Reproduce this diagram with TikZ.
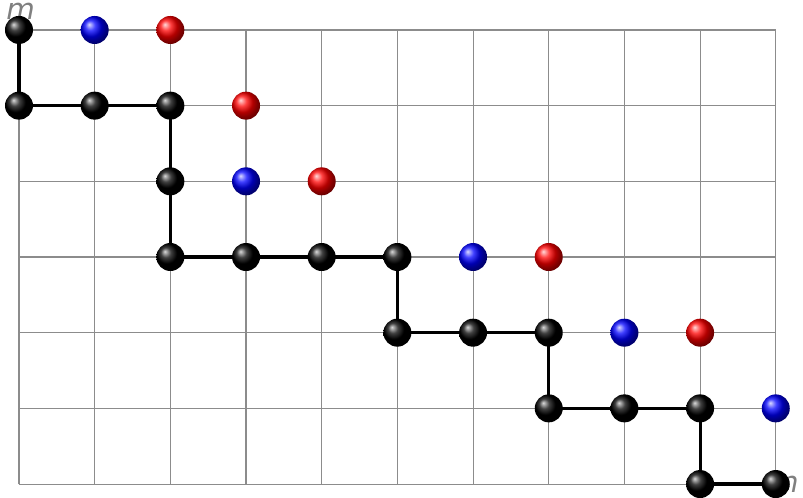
\documentclass[tikz,border=0pt]{standalone}
\usepackage{fontspec}
\setmainfont{DejaVu Sans}
\begin{document}
\begin{tikzpicture}[x=1cm,y=-1cm,
  gridline/.style={draw=gray!90, line width=0.4pt},
  pathline/.style={draw=black, line width=1.2pt},
  ballb/.style={circle, inner sep=0pt, minimum size=0.37cm, ball color=black},
  ballblue/.style={circle, inner sep=0pt, minimum size=0.37cm, ball color=blue},
  ballred/.style={circle, inner sep=0pt, minimum size=0.37cm, ball color=red},
  lab/.style={text=gray, font=\itshape\fontsize{11}{13}\selectfont, inner sep=0pt}]
\useasboundingbox (-0.251,-0.396) rectangle (10.36,6.172);
\draw[gridline] (0,0) grid (10,6);
\node[lab] (m) at (0.02,-0.25) {m};
\node[lab, anchor=west] (n) at (10.05,6.0) {n};
% black path nodes
\foreach \name/\c/\r in {a/0/0, b/0/1, c/1/1, d/2/1, e/2/2, f/2/3, g/3/3, h/4/3, i/5/3, j/5/4, k/6/4, l/7/4, o/7/5, p/8/5, q/9/5, r/9/6, s/10/6}
  \coordinate (\name) at (\c,\r);
\draw[pathline] (a) -- (b) -- (c) -- (d) -- (e) -- (f) -- (g) -- (h) -- (i) -- (j) -- (k) -- (l) -- (o) -- (p) -- (q) -- (r) -- (s);
\foreach \name in {a,b,c,d,e,f,g,h,i,j,k,l,o,p,q,r,s}
  \node[ballb] (B\name) at (\name) {};
% blue balls
\foreach \c/\r [count=\k] in {1/0, 3/2, 6/3, 8/4, 10/5}
  \node[ballblue] (U\k) at (\c,\r) {};
% red balls
\foreach \c/\r [count=\k] in {2/0, 3/1, 4/2, 7/3, 9/4}
  \node[ballred] (R\k) at (\c,\r) {};
\end{tikzpicture}
\end{document}
